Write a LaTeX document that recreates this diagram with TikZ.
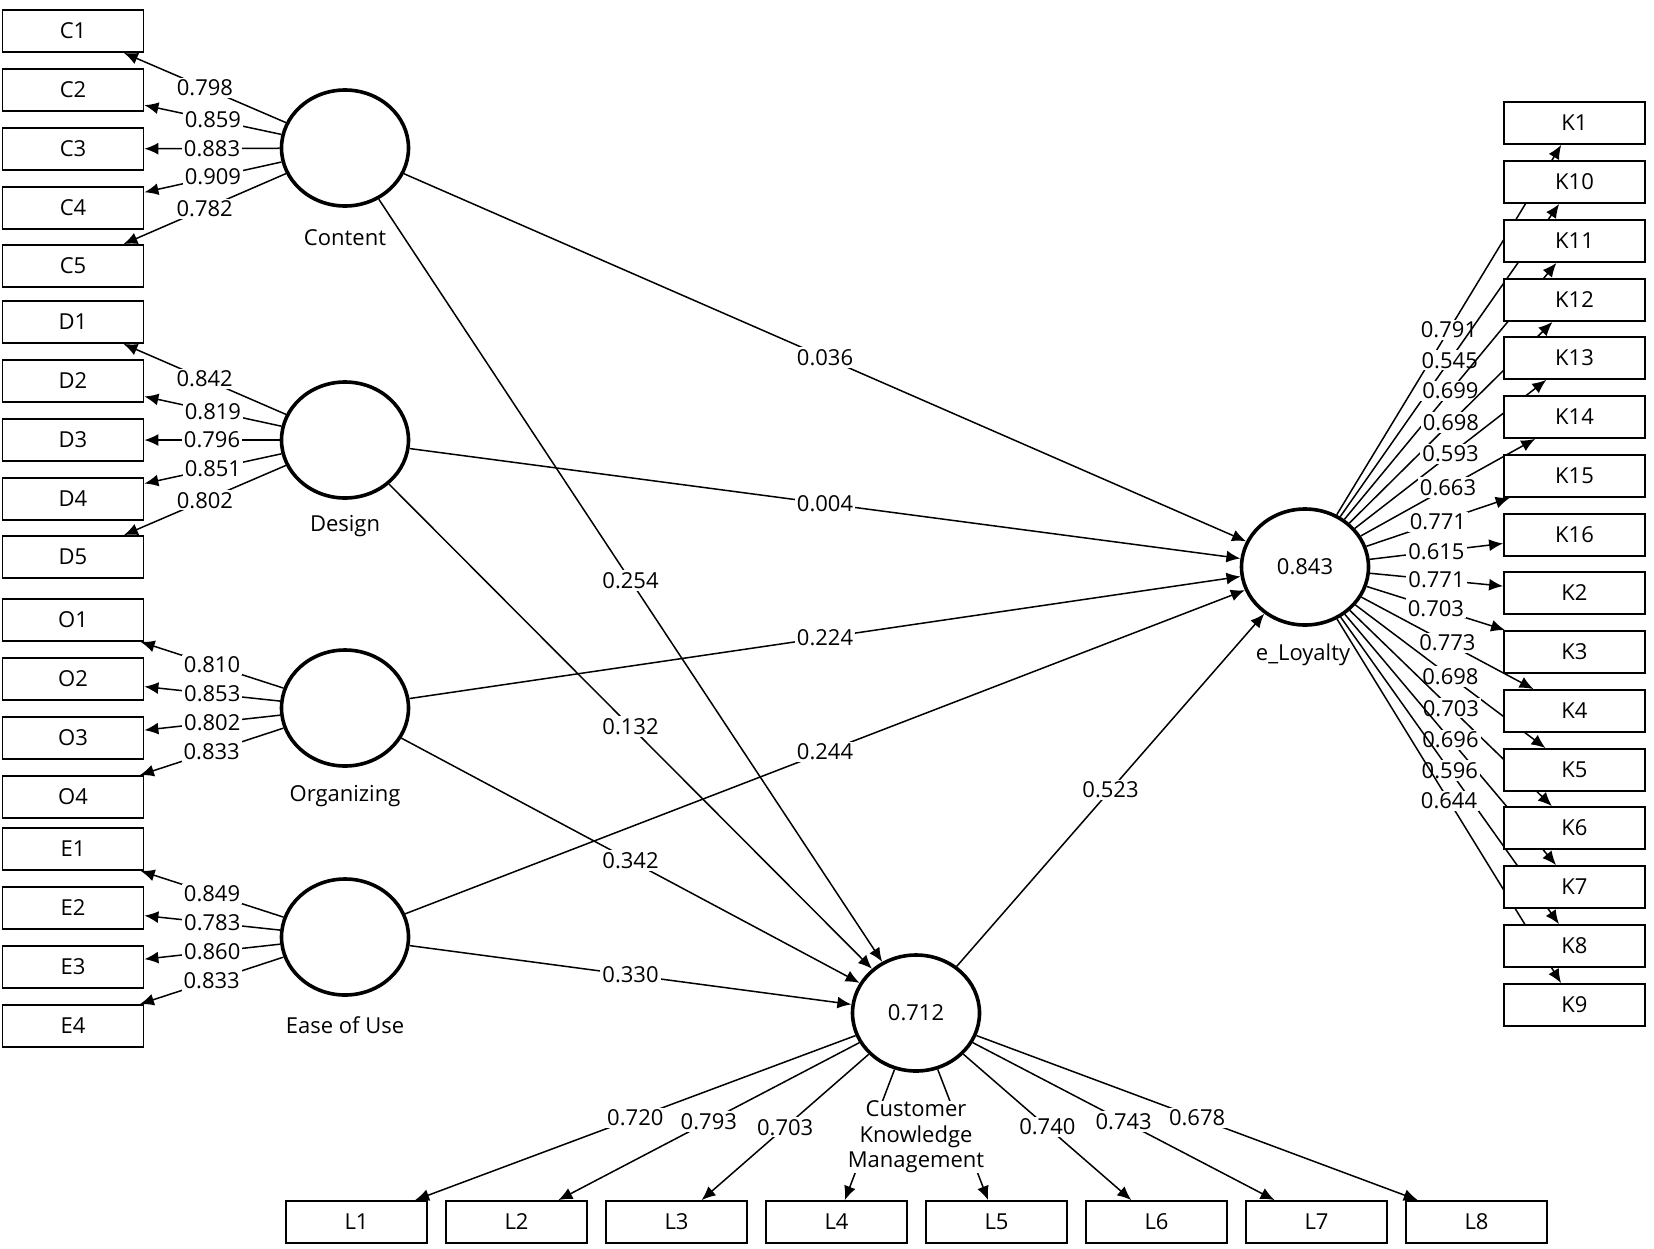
\documentclass[tikz,border=0pt]{standalone}
\usepackage{fontspec}
\setmainfont{Open Sans}
\usetikzlibrary{shapes,arrows.meta}
\pgfdeclarelayer{background}
\pgfsetlayers{background,main}

\begin{document}
\begin{tikzpicture}
[x=0.5pt,y=-0.5pt,>={Latex[length=7pt,width=6pt]},
 every node/.style={font=\fontsize{11}{12.75}\selectfont},
 latent/.style={ellipse,draw,line width=1.8pt,fill=white,minimum width=63.5pt,minimum height=58pt,inner sep=0pt},
 item/.style={rectangle,draw,line width=0.9pt,fill=white,minimum width=70.5pt,minimum height=21pt,inner sep=0pt},
 load/.style={fill=white,inner sep=1pt},
 link/.style={->,line width=0.75pt}]
\useasboundingbox (0,0) rectangle (1654,1248);
% latent variables
\node (content) at (345,148) [latent] {};
\node (design) at (345,440) [latent] {};
\node (organizing) at (345,708) [latent] {};
\node (ease) at (345,937) [latent] {};
\node (loyalty) at (1305,567) [latent] {0.843};
\node (ckm) at (916,1013) [latent] {0.712};
\node (contentlab) at (345,238) {Content};
\node (designlab) at (345,526) {Design};
\node (organizinglab) at (345,796) {Organizing};
\node (easelab) at (345,1025) {Ease of Use};
\node (loyaltylab) at (1303,655) {e\_Loyalty};
\node (ckmlab) at (916,1137) [fill=white,inner sep=0pt,align=center] {Customer\\Knowledge\\Management};
% indicators left
\node (c1) at (73,31) [item] {C1};
\node (c2) at (73,90) [item] {C2};
\node (c3) at (73,149) [item] {C3};
\node (c4) at (73,208) [item] {C4};
\node (c5) at (73,266) [item] {C5};
\node (d1) at (73,322) [item] {D1};
\node (d2) at (73,381) [item] {D2};
\node (d3) at (73,440) [item] {D3};
\node (d4) at (73,499) [item] {D4};
\node (d5) at (73,557) [item] {D5};
\node (o1) at (73,620) [item] {O1};
\node (o2) at (73,679) [item] {O2};
\node (o3) at (73,738) [item] {O3};
\node (o4) at (73,797) [item] {O4};
\node (e1) at (73,849) [item] {E1};
\node (e2) at (73,908) [item] {E2};
\node (e3) at (73,967) [item] {E3};
\node (e4) at (73,1026) [item] {E4};
% indicators right
\node (k1) at (1574.5,123) [item] {K1};
\node (k10) at (1574.5,182) [item] {K10};
\node (k11) at (1574.5,241) [item] {K11};
\node (k12) at (1574.5,300) [item] {K12};
\node (k13) at (1574.5,358) [item] {K13};
\node (k14) at (1574.5,417) [item] {K14};
\node (k15) at (1574.5,476) [item] {K15};
\node (k16) at (1574.5,535) [item] {K16};
\node (k2) at (1574.5,593) [item] {K2};
\node (k3) at (1574.5,652) [item] {K3};
\node (k4) at (1574.5,711) [item] {K4};
\node (k5) at (1574.5,770) [item] {K5};
\node (k6) at (1574.5,828) [item] {K6};
\node (k7) at (1574.5,887) [item] {K7};
\node (k8) at (1574.5,946) [item] {K8};
\node (k9) at (1574.5,1005) [item] {K9};
% indicators bottom
\node (l1) at (356.5,1222) [item] {L1};
\node (l2) at (516.5,1222) [item] {L2};
\node (l3) at (676.5,1222) [item] {L3};
\node (l4) at (836.5,1222) [item] {L4};
\node (l5) at (996.5,1222) [item] {L5};
\node (l6) at (1156.5,1222) [item] {L6};
\node (l7) at (1316.5,1222) [item] {L7};
\node (l8) at (1476.5,1222) [item] {L8};

\begin{pgfonlayer}{background}
% outer loadings
\draw [link] (content) -- node[load] {0.798} (c1);
\draw [link] (content) -- node[load] {0.859} (c2);
\draw [link] (content) -- node[load] {0.883} (c3);
\draw [link] (content) -- node[load] {0.909} (c4);
\draw [link] (content) -- node[load] {0.782} (c5);
\draw [link] (design) -- node[load] {0.842} (d1);
\draw [link] (design) -- node[load] {0.819} (d2);
\draw [link] (design) -- node[load] {0.796} (d3);
\draw [link] (design) -- node[load] {0.851} (d4);
\draw [link] (design) -- node[load] {0.802} (d5);
\draw [link] (organizing) -- node[load] {0.810} (o1);
\draw [link] (organizing) -- node[load] {0.853} (o2);
\draw [link] (organizing) -- node[load] {0.802} (o3);
\draw [link] (organizing) -- node[load] {0.833} (o4);
\draw [link] (ease) -- node[load] {0.849} (e1);
\draw [link] (ease) -- node[load] {0.783} (e2);
\draw [link] (ease) -- node[load] {0.860} (e3);
\draw [link] (ease) -- node[load] {0.833} (e4);
\draw [link] (loyalty) -- node[load] {0.791} (k1);
\draw [link] (loyalty) -- node[load] {0.545} (k10);
\draw [link] (loyalty) -- node[load] {0.699} (k11);
\draw [link] (loyalty) -- node[load] {0.698} (k12);
\draw [link] (loyalty) -- node[load] {0.593} (k13);
\draw [link] (loyalty) -- node[load] {0.663} (k14);
\draw [link] (loyalty) -- node[load] {0.771} (k15);
\draw [link] (loyalty) -- node[load] {0.615} (k16);
\draw [link] (loyalty) -- node[load] {0.771} (k2);
\draw [link] (loyalty) -- node[load] {0.703} (k3);
\draw [link] (loyalty) -- node[load] {0.773} (k4);
\draw [link] (loyalty) -- node[load] {0.698} (k5);
\draw [link] (loyalty) -- node[load] {0.703} (k6);
\draw [link] (loyalty) -- node[load] {0.696} (k7);
\draw [link] (loyalty) -- node[load] {0.596} (k8);
\draw [link] (loyalty) -- node[load] {0.644} (k9);
\draw [link] (ckm) -- node[load] {0.720} (l1);
\draw [link] (ckm) -- node[load] {0.793} (l2);
\draw [link] (ckm) -- node[load] {0.703} (l3);
\draw [link] (ckm) -- (l4);
\draw [link] (ckm) -- (l5);
\draw [link] (ckm) -- node[load] {0.740} (l6);
\draw [link] (ckm) -- node[load] {0.743} (l7);
\draw [link] (ckm) -- node[load] {0.678} (l8);
% path coefficients
\draw [link] (content) -- node[load] {0.036} (loyalty);
\draw [link] (design) -- node[load] {0.004} (loyalty);
\draw [link] (organizing) -- node[load] {0.224} (loyalty);
\draw [link] (ease) -- node[load] {0.244} (loyalty);
\draw [link] (content) -- node[load] {0.254} (ckm);
\draw [link] (design) -- node[load] {0.132} (ckm);
\draw [link] (organizing) -- node[load] {0.342} (ckm);
\draw [link] (ease) -- node[load] {0.330} (ckm);
\draw [link] (ckm) -- node[load] {0.523} (loyalty);
\end{pgfonlayer}
\end{tikzpicture}
\end{document}
